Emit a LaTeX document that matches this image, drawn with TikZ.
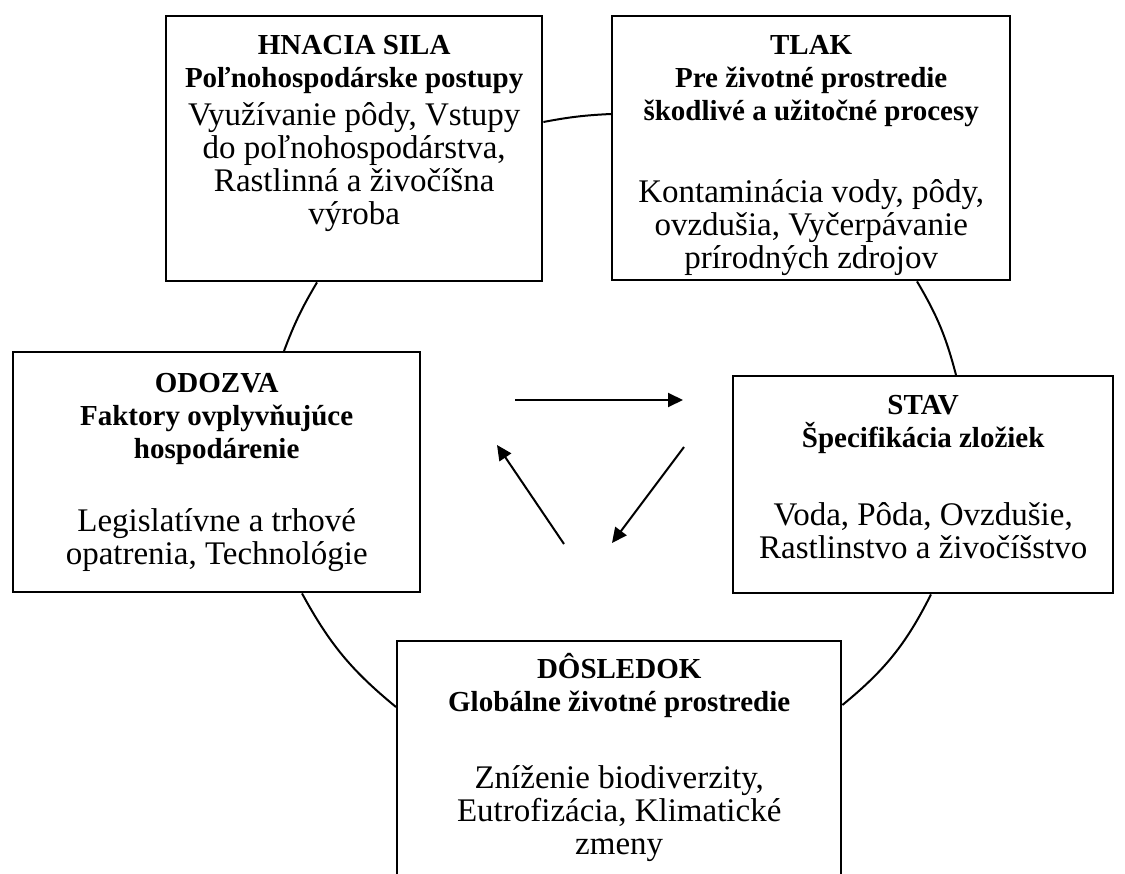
\documentclass[tikz,border=0pt]{standalone}
\usepackage{fontspec}
\setmainfont{Liberation Serif}
\usetikzlibrary{calc,arrows.meta}

\newcommand{\stagehead}[1]{{\fontsize{29}{33}\selectfont\bfseries #1}}
\newcommand{\stage}[5]{%
 \node[stagebox] (#1) at (#2) {%
  \parbox[c][#4][t]{#3}{\centering\lineskiplimit=-50pt #5}%
 };%
}

\begin{document}
\begin{tikzpicture}[x=1pt,y=-1pt,
  stagebox/.style={draw,line width=2.4pt,inner sep=0pt,anchor=north west,fill=white,
    font=\fontsize{33}{33}\selectfont},
  looparc/.style={line width=2pt},
  flow/.style={line width=2pt,-{Triangle[length=15pt,width=14pt]}}]
   \useasboundingbox (0,0) rectangle (1125,874);
   \clip (0,0) rectangle (1125,874);
   \stage{hn}{165,15}{376pt}{265pt}{\rule{0pt}{38pt}\stagehead{HNACIA SILA}\\
     \stagehead{Poľnohospodárske postupy}\\[5pt]
     Využívanie pôdy, Vstupy\\ do poľnohospodárstva,\\ Rastlinná a živočíšna\\ výroba};
   \stage{tl}{611,15}{398pt}{264pt}{\rule{0pt}{38pt}\stagehead{TLAK}\\
     \stagehead{Pre životné prostredie}\\ \stagehead{škodlivé a užitočné procesy}\\[49pt]
     Kontaminácia vody, pôdy,\\ ovzdušia, Vyčerpávanie\\ prírodných zdrojov};
   \stage{od}{12,351}{407pt}{240pt}{\rule{0pt}{40pt}\stagehead{ODOZVA}\\
     \stagehead{Faktory ovplyvňujúce}\\ \stagehead{hospodárenie}\\[40pt]
     Legislatívne a trhové\\ opatrenia, Technológie};
   \stage{st}{732,375}{380pt}{217pt}{\rule{0pt}{38pt}\stagehead{STAV}\\
     \stagehead{Špecifikácia zložiek}\\[45pt]
     Voda, Pôda, Ovzdušie,\\ Rastlinstvo a živočíšstvo};
   \stage{ds}{396,640}{444pt}{250pt}{\rule{0pt}{37pt}\stagehead{DÔSLEDOK}\\
     \stagehead{Globálne životné prostredie}\\[44pt]
     Zníženie biodiverzity,\\ Eutrofizácia, Klimatické\\ zmeny};
   % cycle around the boxes
   \draw[looparc] ($(hn.north east)+(0,107)$) to[bend left=4] ($(tl.north west)+(0,99)$);
   \draw[looparc] ($(tl.south west)+(306,0)$) to[bend left=8] ($(st.north west)+(224,0)$);
   \draw[looparc] ($(st.south west)+(199,0)$) to[bend left=12] ($(ds.north east)+(0,65)$);
   \draw[looparc] ($(ds.north west)+(0,67)$) to[bend left=11] ($(od.south west)+(290,0)$);
   \draw[looparc] ($(od.north west)+(272,0)$) to[bend left=5] ($(hn.south west)+(152,0)$);
   % arrows in the middle
   \coordinate (f1s) at (515,400);
   \coordinate (f1e) at (683,400);
   \coordinate (f2s) at (684,447);
   \coordinate (f2e) at (612,543);
   \coordinate (f3s) at (564,544);
   \coordinate (f3e) at (497,445);
   \draw[flow] (f1s) -- (f1e);
   \draw[flow] (f2s) -- (f2e);
   \draw[flow] (f3s) -- (f3e);
\end{tikzpicture}
\end{document}
